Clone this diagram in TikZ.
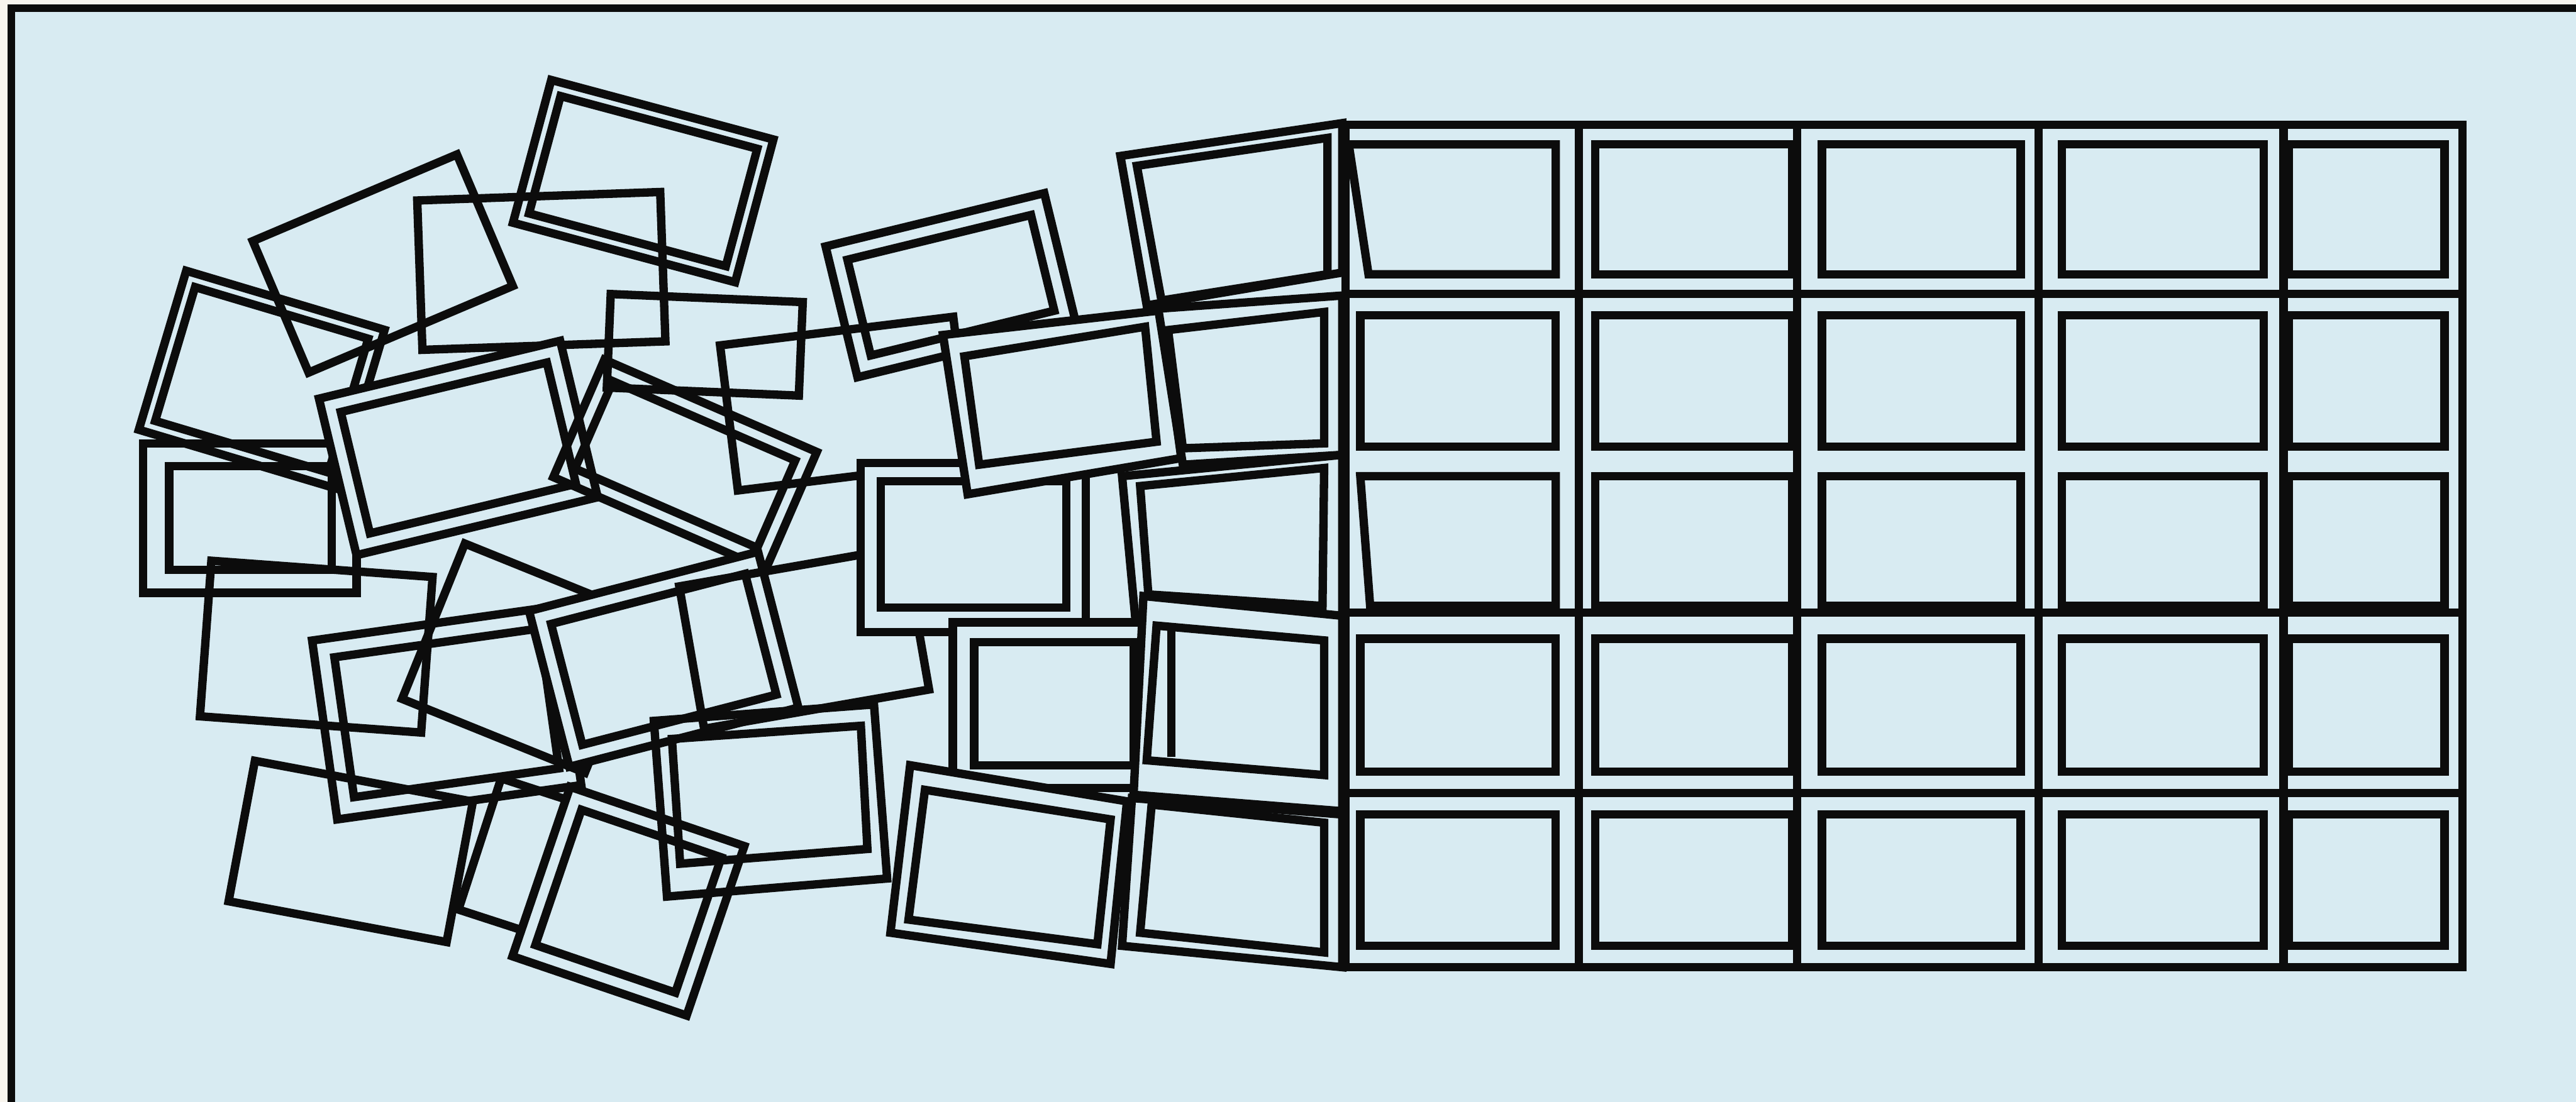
\documentclass[tikz,border=0pt]{standalone}
\definecolor{bg}{RGB}{216,235,242}
\definecolor{cream}{RGB}{248,245,238}
\definecolor{ink}{RGB}{12,12,12}
\tikzset{fr/.style={draw=ink,line width=1.45pt,line join=miter},
 frf/.style={fr,fill=bg}}
\newcommand{\RF}[7][fr]{%
 \begin{scope}[shift={(#2,#3)},rotate=#6]
 \pgfmathsetmacro\hw{#4/2}\pgfmathsetmacro\hh{#5/2}
 \path[#1] (-\hw,-\hh) rectangle (\hw,\hh);
 \ifdim #7pt>0pt
   \pgfmathsetmacro\iw{\hw-#7}\pgfmathsetmacro\ih{\hh-#7}
   \path[fr] (-\iw,-\ih) rectangle (\iw,\ih);
 \fi
 \end{scope}}
\begin{document}
\begin{tikzpicture}[x=0.01cm,y=-0.01cm]
\useasboundingbox (0,0) rectangle (1568,671);
\fill[cream] (0,0) rectangle (1568,671);
\fill[bg] (7,5) rectangle (1568,671);
\draw[ink,line width=1.3pt] (7,672) -- (7,5) -- (1569,5);
% left cluster (back)
\RF{159.3}{231.3}{126}{101}{-16.6}{8}
\path[fr] (87,270) rectangle (217,361);
\path[fr] (103,284) rectangle (202,347);
\RF{233}{160.5}{135}{87}{23}{0}
\RF{329.5}{165}{148}{91}{2}{0}
\RF{391.5}{110.3}{140}{90}{-15}{8}
\RF{429}{210}{117}{57}{-2.4}{0}
\RF{192.5}{393.8}{135}{95}{-4.2}{0}
\RF{319.5}{400.8}{120}{102}{-22}{0}
\RF{271.9}{434.1}{150}{110}{8}{12}
\RF{213.5}{518.5}{135}{87}{-10.6}{0}
\RF{339.6}{529.4}{100}{84}{-18}{0}
\RF{578.8}{173.7}{137}{82}{13.7}{11}
\RF{514.7}{245.8}{143}{89}{7}{0}
\RF[frf]{279}{272.8}{151}{98}{13.5}{11}
\RF{417}{282.9}{141}{78}{-23.5}{10}
\RF[frf]{404}{401.5}{144}{98}{14.5}{11}
\RF{489.5}{388.5}{139}{88}{9.9}{0}
\RF[frf]{382.5}{548.8}{112}{109}{-18.8}{11}
% S20
\path[fr] (398,439) -- (532,429) -- (540,535) -- (406,546) -- cycle;
\path[fr] (409,450) -- (524,442) -- (528,517) -- (414,526) -- cycle;
% S23
\path[frf] (524,282) rectangle (661,385);
\path[fr] (536,293) rectangle (649,370);
% S10
\path[frf] (574,204) -- (707,189) -- (719,279) -- (589,301) -- cycle;
\path[fr] (587,217) -- (697,199) -- (704,269) -- (596,283) -- cycle;
% S22
\path[frf] (580,379) rectangle (698,480);
\path[fr] (593,391) rectangle (690,466);
% S21
\path[frf] (554,466) -- (686,488) -- (676,587) -- (542,568) -- cycle;
\path[fr] (563,481) -- (676,499) -- (668,575) -- (553,560) -- cycle;
% transition column
\path[frf] (682,95) -- (817,75) -- (817,166) -- (698,186) -- cycle;
\path[fr] (692,101) -- (808,84) -- (808,167) -- (707,183) -- cycle;
\path[frf] (705,188) -- (817,180) -- (817,277) -- (720,283) -- cycle;
\path[fr] (711,201) -- (806,190) -- (806,270) -- (720,273) -- cycle;
\path[frf] (683,290) -- (817,277) -- (817,375) -- (691,376) -- cycle;
\path[fr] (694,296) -- (806,285) -- (805,369) -- (699,362) -- cycle;
\path[frf] (696,363) -- (817,375) -- (817,494) -- (690,484) -- cycle;
\path[fr] (704,381) -- (806,390) -- (806,472) -- (698,463) -- cycle;
\path[fr] (713,384) -- (713,461);
\path[frf] (689,486) -- (817,496) -- (817,589) -- (683,576) -- cycle;
\path[fr] (701,490) -- (806,501) -- (806,580) -- (694,568) -- cycle;
% grid
\path[frf] (819,76) rectangle (1499,589);
\foreach \yy in {179,373,483} \path[fr] (819,\yy) -- (1499,\yy);
\foreach \xx in {961,1094,1241,1390} \path[fr] (\xx,76) -- (\xx,589);
\foreach \ya/\yb in {88/167,192/272,290/369,389/470,496/576}
  \foreach \xa/\xb in {971/1091,1109/1230,1255/1378,1393/1488}
    \path[fr] (\xa,\ya) rectangle (\xb,\yb);
\path[fr] (821,88) -- (947,88) -- (947,167) -- (833,167) -- cycle;
\path[fr] (828,192) rectangle (947,272);
\path[fr] (828,290) -- (947,290) -- (947,369) -- (834,369) -- cycle;
\path[fr] (828,389) rectangle (947,470);
\path[fr] (828,496) rectangle (947,576);
\end{tikzpicture}
\end{document}
